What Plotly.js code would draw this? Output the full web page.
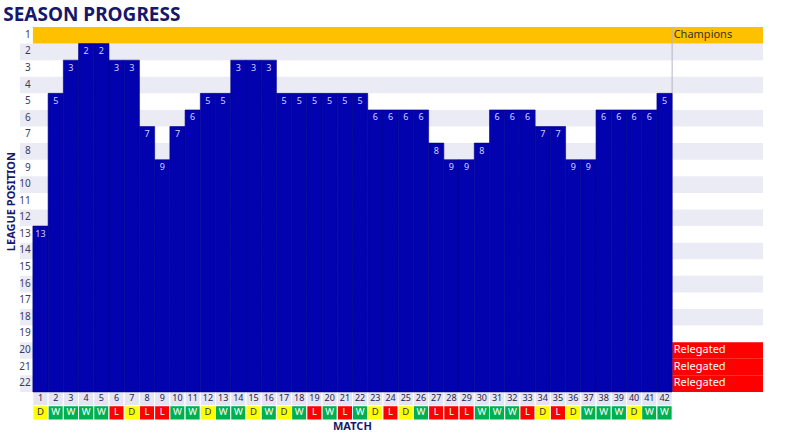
<!DOCTYPE html>
<html>
<head>
<meta charset="utf-8">
<script src="https://cdn.plot.ly/plotly-3.0.1.min.js"></script>
<style>html,body{margin:0;padding:0;background:#fff;}#chart{width:800px;height:434px;}</style>
</head>
<body>
<div id="chart"></div>
<script>
// ---- data ----
const matches = [1,2,3,4,5,6,7,8,9,10,11,12,13,14,15,16,17,18,19,20,21,22,23,24,25,26,27,28,29,30,31,32,33,34,35,36,37,38,39,40,41,42];
const positions = [13,5,3,2,2,3,3,7,9,7,6,5,5,3,3,3,5,5,5,5,5,5,6,6,6,6,8,9,9,8,6,6,6,7,7,9,9,6,6,6,6,5];
const results = ['D','W','W','W','W','L','D','L','L','W','W','D','W','W','D','W','D','W','L','W','L','W','D','L','D','W','L','L','L','W','W','W','L','D','L','D','W','W','W','D','W','W'];
const rows = [1,2,3,4,5,6,7,8,9,10,11,12,13,14,15,16,17,18,19,20,21,22];
const championRows = [1];
const relegatedRows = [20,21,22];
const zoneChampions = 'Champions';
const zoneRelegated = 'Relegated';

// ---- styles ----
const NAVY = '#17176b';
const BLUE = '#0202ae';
const STRIPE = '#ebebf5';
const FONT = 'Noto Sans, Roboto, sans-serif';
const XL = -0.347, XR = 48.47;       // plot x range (data units)
const NUMROW_TOP = 22.5, NUMROW_BOT = 23.33, RESROW_BOT = 24.19;
const resColor = {W:'#00b050', L:'#ff0000', D:'#ffff00'};
const resText = {W:'#ffffff', L:'#ffffff', D:'#333333'};
const nRows = rows.length;

const shapes = [];
// row stripes
rows.forEach(r => {
  if (r % 2 === 0) shapes.push({type:'rect', layer:'below', xref:'x', yref:'y', x0:XL, x1:XR, y0:r-0.5, y1:r+0.5, fillcolor:STRIPE, line:{width:0}});
});
// champions band
championRows.forEach(r => shapes.push({type:'rect', layer:'below', xref:'x', yref:'y', x0:0.5, x1:XR, y0:r-0.5, y1:r+0.5, fillcolor:'#ffc000', line:{width:0}}));
// relegated cells in label column
relegatedRows.forEach(r => shapes.push({type:'rect', layer:'below', xref:'x', yref:'y', x0:matches.length+0.5, x1:XR, y0:r-0.5, y1:r+0.5, fillcolor:'#ff0000', line:{width:0}}));
// divider
shapes.push({type:'line', layer:'below', xref:'x', yref:'y', x0:matches.length+0.5, x1:matches.length+0.5, y0:0.5, y1:relegatedRows[0]-0.5, line:{color:'#b4b4c4', width:1}});
// match number cells and result cells
matches.forEach((m,i) => {
  shapes.push({type:'rect', layer:'below', xref:'x', yref:'y', x0:m-0.5, x1:m+0.5, y0:NUMROW_TOP, y1:NUMROW_BOT, fillcolor:'#e4e4f2', line:{color:'#ffffff', width:1}});
  shapes.push({type:'rect', layer:'below', xref:'x', yref:'y', x0:m-0.5, x1:m+0.5, y0:NUMROW_BOT, y1:RESROW_BOT, fillcolor:resColor[results[i]], line:{color:'#ffffff', width:1}});
});

const traces = [
  { type:'bar', x:matches, base:positions.map(p => p-0.5), y:positions.map(p => (nRows+0.5)-(p-0.5)),
    width:1, marker:{color:BLUE, line:{color:'#00008c', width:0.6}}, hoverinfo:'skip' },
  { type:'scatter', mode:'text', x:matches, y:positions, text:positions.map(String),
    textfont:{family:FONT, size:9, color:'#d2d2ff'}, hoverinfo:'skip', cliponaxis:false },
  { type:'scatter', mode:'text', x:rows.map(()=>0.35), y:rows, text:rows.map(String), textposition:'middle left',
    textfont:{family:FONT, size:10, color:'#3a3a66'}, hoverinfo:'skip', cliponaxis:false },
  { type:'scatter', mode:'text', x:matches, y:matches.map(()=> (NUMROW_TOP+NUMROW_BOT)/2), text:matches.map(String),
    textfont:{family:FONT, size:9, color:'#22224a'}, hoverinfo:'skip', cliponaxis:false },
  { type:'scatter', mode:'text', x:matches, y:matches.map(()=> (NUMROW_BOT+RESROW_BOT)/2), text:results,
    textfont:{family:FONT, size:9.5, color:results.map(r=>resText[r])}, hoverinfo:'skip', cliponaxis:false },
  { type:'scatter', mode:'text', x:championRows.map(()=>matches.length+0.6), y:championRows, text:championRows.map(()=>zoneChampions), textposition:'middle right',
    textfont:{family:FONT, size:11, color:'#3a3020'}, hoverinfo:'skip', cliponaxis:false },
  { type:'scatter', mode:'text', x:relegatedRows.map(()=>matches.length+0.6), y:relegatedRows, text:relegatedRows.map(()=>zoneRelegated), textposition:'middle right',
    textfont:{family:FONT, size:11, color:'#ffffff'}, hoverinfo:'skip', cliponaxis:false }
];

const layout = {
  width:800, height:434,
  margin:{l:20, r:37, t:27, b:14},
  paper_bgcolor:'#ffffff', plot_bgcolor:'#ffffff',
  showlegend:false, bargap:0,
  title:{text:'<b>SEASON PROGRESS</b>', x:0.004, xanchor:'left', xref:'container', y:1-14/434, yanchor:'middle', yref:'container',
         font:{family:FONT, size:19, color:NAVY}},
  xaxis:{range:[XL, XR], visible:false, fixedrange:true},
  yaxis:{range:[RESROW_BOT, 0.5], visible:false, fixedrange:true},
  shapes:shapes,
  annotations:[
    {text:'<b>LEAGUE POSITION</b>', xref:'paper', x:-0.0135, yref:'y', y:11, textangle:-90, showarrow:false,
     font:{family:FONT, size:11, color:NAVY}, xanchor:'center', yanchor:'middle'},
    {text:'<b>MATCH</b>', xref:'x', x:21.5, yref:'paper', y:-0.0135, showarrow:false,
     font:{family:FONT, size:11, color:NAVY}, xanchor:'center', yanchor:'middle'}
  ]
};

Plotly.newPlot('chart', traces, layout, {displayModeBar:false, staticPlot:true});
</script>
</body>
</html>
